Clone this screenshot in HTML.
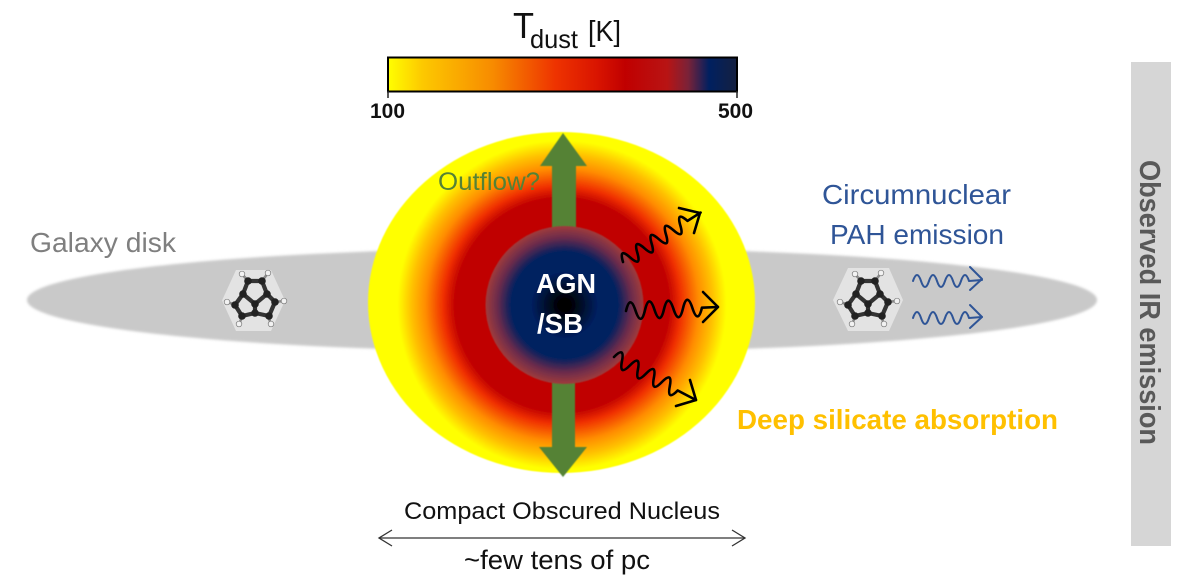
<!DOCTYPE html>
<html><head><meta charset="utf-8"><style>
html,body{margin:0;padding:0;background:#fff}
svg{display:block}
text{font-family:"Liberation Sans",sans-serif}
</style></head><body>
<svg xmlns="http://www.w3.org/2000/svg" width="1200" height="585" viewBox="0 0 1200 585">
<defs>
<radialGradient id="o" gradientUnits="userSpaceOnUse" cx="562" cy="305" r="175">
<stop offset="0" stop-color="#c00000"/><stop offset=".61" stop-color="#c00000"/><stop offset=".68" stop-color="#f03000"/><stop offset=".78" stop-color="#ff8c00"/><stop offset=".86" stop-color="#ffc000"/><stop offset=".94" stop-color="#ffff00"/><stop offset="1" stop-color="#ffff00"/>
</radialGradient>
<radialGradient id="c" gradientUnits="userSpaceOnUse" cx="564.5" cy="305" r="79">
<stop offset="0" stop-color="#000"/><stop offset=".07" stop-color="#000"/><stop offset=".42" stop-color="#002060"/><stop offset=".67" stop-color="#002060"/><stop offset=".85" stop-color="#6a2b4c"/><stop offset="1" stop-color="#a03c3c"/>
</radialGradient>
<linearGradient id="b" x1="0" x2="1" y1="0" y2="0">
<stop offset="0" stop-color="#ffff00"/><stop offset=".1" stop-color="#fdc800"/><stop offset=".3" stop-color="#f78b00"/><stop offset=".48" stop-color="#ee3300"/><stop offset=".6" stop-color="#d91400"/><stop offset=".68" stop-color="#c00000"/><stop offset=".8" stop-color="#b81414"/><stop offset=".86" stop-color="#7a2238"/><stop offset=".92" stop-color="#002060"/><stop offset="1" stop-color="#152040"/>
</linearGradient>
<filter id="s" x="-5%" y="-5%" width="110%" height="110%"><feGaussianBlur stdDeviation="1.2"/></filter>
<filter id="t" x="-10%" y="-10%" width="120%" height="120%"><feGaussianBlur stdDeviation="0.5"/></filter>
<g id="mol">
<path d="M-5-19L-11-26M9-19L15-27M21 2L31 1M15 16L18 24M-10 15L-14 24M-17 5L-26 2" stroke="#8a8a8a" stroke-width="2.600" fill="none"/>
<path d="M-5-19L9-19L14-6L2 4L-10-6ZM14-6L22 2L16 16L2 13L2 4M-10-6L-18 5L-11 16L2 13" fill="none" stroke="#333" stroke-width="4.200" stroke-linejoin="round"/>
<g fill="#222"><circle cx="-5" cy="-19" r="3.800"/><circle cx="9" cy="-19" r="3.800"/><circle cx="14" cy="-6" r="3.800"/><circle cx="-10" cy="-6" r="3.800"/><circle cx="2" cy="4" r="3.800"/><circle cx="22" cy="2" r="3.800"/><circle cx="16" cy="16" r="3.800"/><circle cx="2" cy="13" r="3.800"/><circle cx="-11" cy="16" r="3.800"/><circle cx="-18" cy="5" r="3.800"/></g>
<g fill="#f2f2f2" stroke="#777" stroke-width=".7"><circle cx="-11" cy="-26" r="2.800"/><circle cx="15" cy="-27" r="2.800"/><circle cx="31" cy="1" r="2.800"/><circle cx="18" cy="24" r="2.800"/><circle cx="-14" cy="24" r="2.800"/><circle cx="-26" cy="2" r="2.800"/></g>
</g>
</defs>

<!-- disk -->
<ellipse cx="562" cy="300" rx="535" ry="52" fill="#c9c9c9" filter="url(#s)"/>

<!-- hexes -->
<polygon points="222,300.500 236,270 271,270 285,300.500 271,331 236,331" fill="#e3e3e3"/>
<polygon points="833,300 848,268 889,268 903,300 889,331 848,331" fill="#e3e3e3"/>
<use href="#mol" x="253" y="300"/>
<use href="#mol" x="866" y="300"/>

<!-- nucleus -->
<ellipse cx="561.500" cy="302.500" rx="193.500" ry="170.500" fill="url(#o)" filter="url(#t)"/>

<!-- outflow arrows -->
<g fill="#548235" filter="url(#t)">
<polygon points="563,133 587,166 576,166 576,230 552,230 552,166 540,166"/>
<polygon points="563,477 587,447 575,447 575,380 552,380 552,447 539,447"/>
</g>
<circle cx="564.500" cy="305" r="79" fill="url(#c)" filter="url(#t)"/>

<!-- black waves -->
<g fill="none" stroke="#000" stroke-width="2.600" stroke-linejoin="round" stroke-linecap="round">
<g transform="translate(623,262) rotate(-32.500)"><path d="M0 0q4.250-15 8.500 0t8.500 0t8.500 0t8.500 0t8.500 0t8.500 0t8.500 0t8.500 0t8.500 0L92 0"/></g>
<path d="M679 208L700 213L694 233"/>
<g transform="translate(626,311) rotate(-2.500)"><path d="M0 0q4.750-17 9.500 0t9.500 0t9.500 0t9.500 0t9.500 0t9.500 0t9.500 0t9.500 0L92 0"/></g>
<path d="M703 292L718 307L703 322"/>
<g transform="translate(614,357) rotate(27.700)"><path d="M0 0q4.500-15 9 0t9 0t9 0t9 0t9 0t9 0t9 0t9 0L92.500 0"/></g>
<path d="M690 380L696 400L676 406"/>
</g>

<!-- blue waves -->
<g fill="none" stroke="#2f5597" stroke-width="2" stroke-linejoin="round" stroke-linecap="round">
<path d="M913 281q4-12 8 0t8 0t8 0t8 0t8 0t8 0t8 0L982 280"/><path d="M970 267L982 279L970 290"/>
<path d="M913 318q4-12 8 0t8 0t8 0t8 0t8 0t8 0t8 0L982 317"/><path d="M970 305L982 317L970 328"/>
</g>

<!-- colorbar -->
<rect x="388" y="57.500" width="349" height="34" fill="url(#b)" stroke="#000" stroke-width="2"/>
<path d="M388 91V98M737 91V98" stroke="#222" stroke-width="1.500"/>
<text x="370" y="118" font-size="21" font-weight="bold" fill="#111" textLength="35" lengthAdjust="spacingAndGlyphs">100</text>
<text x="718" y="118" font-size="21" font-weight="bold" fill="#111" textLength="35" lengthAdjust="spacingAndGlyphs">500</text>
<text x="513" y="38" font-size="36" fill="#111" textLength="21" lengthAdjust="spacingAndGlyphs">T</text>
<text x="530" y="48" font-size="26" fill="#111" textLength="48" lengthAdjust="spacingAndGlyphs">dust</text>
<text x="588" y="41" font-size="29" fill="#111" textLength="33" lengthAdjust="spacingAndGlyphs">[K]</text>

<!-- labels -->
<text x="30" y="252" font-size="28" fill="#7f7f7f" textLength="146" lengthAdjust="spacingAndGlyphs">Galaxy disk</text>
<text x="822" y="204" font-size="28" fill="#2f5597" textLength="189" lengthAdjust="spacingAndGlyphs">Circumnuclear</text>
<text x="830" y="244" font-size="28" fill="#2f5597" textLength="174" lengthAdjust="spacingAndGlyphs">PAH emission</text>
<text x="737" y="429" font-size="28" font-weight="bold" fill="#ffc000" textLength="321" lengthAdjust="spacingAndGlyphs">Deep silicate absorption</text>
<text x="438" y="190" font-size="25" fill="#548235" textLength="102" lengthAdjust="spacingAndGlyphs">Outflow?</text>
<text x="536" y="293" font-size="28" font-weight="bold" fill="#fff" textLength="60" lengthAdjust="spacingAndGlyphs">AGN</text>
<text x="537" y="333" font-size="28" font-weight="bold" fill="#fff" textLength="46" lengthAdjust="spacingAndGlyphs">/SB</text>
<text x="404" y="519" font-size="24.500" fill="#111" textLength="316" lengthAdjust="spacingAndGlyphs">Compact Obscured Nucleus</text>
<text x="464" y="569" font-size="27" fill="#111" textLength="186" lengthAdjust="spacingAndGlyphs">~few tens of pc</text>

<!-- scale arrow -->
<g fill="none" stroke="#333" stroke-width="1.300">
<path d="M379 538H745"/><path d="M392 530L379 538L392 546"/><path d="M732 530L745 538L732 546"/>
</g>

<!-- IR bar -->
<rect x="1131" y="62" width="40" height="484" fill="#d6d6d6"/>
<text transform="translate(1140,160) rotate(90)" font-size="29" font-weight="bold" fill="#595959" textLength="285" lengthAdjust="spacingAndGlyphs">Observed IR emission</text>
</svg>
</body></html>
